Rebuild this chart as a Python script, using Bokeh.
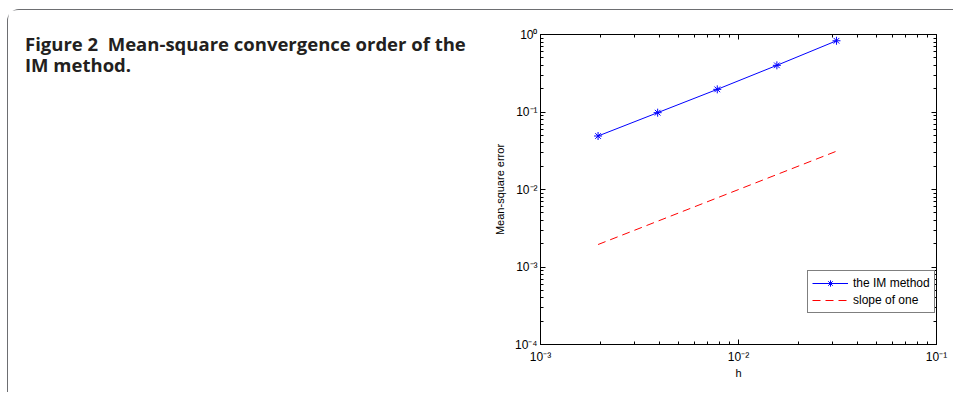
from bokeh.plotting import figure
from bokeh.layouts import row, column
from bokeh.models import (LogAxis, FixedTicker, CustomJSTickFormatter,
                          Legend, LegendItem, Range1d)
from bokeh.embed import file_html
from bokeh.resources import INLINE
from bokeh.core.properties import value

# ---- data ----
h = [0.001953125, 0.00390625, 0.0078125, 0.015625, 0.03125]
ms_error = [0.049, 0.098, 0.196, 0.40, 0.83]
slope_one = [0.00195, 0.0039, 0.0078, 0.0156, 0.0312]
x_major = [1e-3, 1e-2, 1e-1]
y_major = [1e-4, 1e-3, 1e-2, 1e-1, 1e0]
caption_lines = ["Figure 2\u00a0 Mean-square convergence order of the", "IM method."]
series_names = ["the IM method", "slope of one"]


def minors(majors):
    out = []
    for m in majors[:-1]:
        for k in range(2, 10):
            out.append(m * k)
    return out


FONT = "Liberation Sans"
CAP_W, CAP_H, H = 470, 80, 382

# ---- caption panel ----
c = figure(width=CAP_W, height=CAP_H, x_range=Range1d(0, CAP_W), y_range=Range1d(CAP_H, 0),
           min_border=0, output_backend="svg", toolbar_location=None,
           x_axis_type=None, y_axis_type=None, title=None,
           background_fill_color="white", border_fill_color="white")
c.grid.visible = False
c.outline_line_color = None
c.text(x=[16.5, 16.5], y=[32.5, 53.5], text=caption_lines,
       text_font=value("Open Sans"), text_font_style="bold",
       text_font_size="18.5px", text_color="#231f20",
       text_baseline="alphabetic", text_align="left")

# ---- plot panel ----
p = figure(width=475, height=H, x_axis_type="log", y_axis_type="log",
           x_range=Range1d(1e-3, 1e-1), y_range=Range1d(1e-4, 1),
           min_border_left=62, min_border_right=17, min_border_top=24,
           min_border_bottom=48, output_backend="svg", toolbar_location=None,
           background_fill_color="white", border_fill_color="white")
p.grid.visible = False
p.outline_line_color = "black"
p.outline_line_width = 1

fmt = CustomJSTickFormatter(code="""
const e = Math.round(Math.log10(tick));
const sup = {"-":"\u207b","0":"\u2070","1":"\u00b9","2":"\u00b2","3":"\u00b3","4":"\u2074","5":"\u2075"};
return "10" + String(e).split("").map(c => sup[c]).join("");
""")

xt = FixedTicker(ticks=x_major, minor_ticks=minors(x_major))
yt = FixedTicker(ticks=y_major, minor_ticks=minors(y_major))


def style(ax, labels=True):
    ax.axis_line_color = "black"
    ax.axis_line_width = 1
    ax.major_tick_in = 5
    ax.major_tick_out = 0
    ax.minor_tick_in = 3
    ax.minor_tick_out = 0
    ax.major_tick_line_color = "black"
    ax.minor_tick_line_color = "black"
    ax.major_label_text_font = FONT
    ax.major_label_text_color = "black"
    ax.axis_label_text_font = FONT
    ax.axis_label_text_font_style = "normal"
    ax.axis_label_text_color = "black"
    ax.axis_label_text_font_size = "11px"
    if labels:
        ax.major_label_text_font_size = "12px"
        ax.formatter = fmt
    else:
        ax.major_label_text_font_size = "0px"
        ax.major_label_standoff = 0
        ax.formatter = CustomJSTickFormatter(code="return '';")


xa = p.xaxis[0]
xa.ticker = xt
xa.axis_label = "h"
style(xa)
xa.major_label_standoff = 5
xa.axis_label_standoff = 0
ya = p.yaxis[0]
ya.ticker = yt
ya.axis_label = "Mean-square error"
style(ya)
ya.major_label_standoff = 3
ya.axis_label_standoff = 6

top = LogAxis(ticker=xt)
style(top, labels=False)
p.add_layout(top, "above")
right = LogAxis(ticker=yt)
style(right, labels=False)
p.add_layout(right, "right")

r1l = p.line(h, ms_error, line_color="#0000ff", line_width=1)
r1m = p.scatter(h, ms_error, marker="asterisk", size=8, line_color="#0000ff", line_width=1)
r2 = p.line(h, slope_one, line_color="#ff0000", line_width=1, line_dash="8 5")

legend = Legend(items=[LegendItem(label=series_names[0], renderers=[r1l, r1m]),
                       LegendItem(label=series_names[1], renderers=[r2])],
                location=(267, 31))
legend.border_line_color = "black"
legend.border_line_width = 1
legend.background_fill_color = "white"
legend.background_fill_alpha = 1
legend.label_text_font = FONT
legend.label_text_font_size = "12px"
legend.label_text_color = "black"
legend.glyph_width = 36
legend.glyph_height = 16
legend.label_height = 16
legend.label_standoff = 5
legend.padding = 4
legend.spacing = 1
legend.margin = 0
p.add_layout(legend, "center")

layout = row(column(c, width=CAP_W, height=H), p, spacing=0, styles={
    "margin-left": "7px", "margin-top": "9px",
    "border-left": "1.5px solid #6d6e71", "border-top": "1.5px solid #6d6e71",
    "border-top-left-radius": "12px"})

open("out.html", "w").write(file_html(layout, INLINE))
